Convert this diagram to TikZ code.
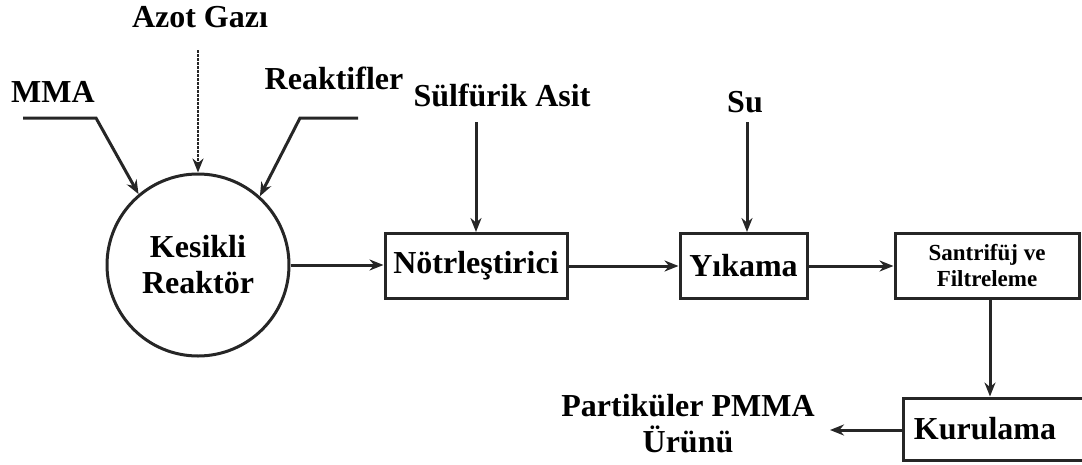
\documentclass[tikz,border=0pt]{standalone}
\usepackage{fontspec}
\setmainfont{Liberation Serif}
\usetikzlibrary{arrows.meta}
\begin{document}
\begin{tikzpicture}[x=1pt,y=-1pt,
  every node/.style={font=\bfseries\fontsize{32}{36}\selectfont, inner sep=0pt, align=center},
  unit/.style={draw=black!85, line width=3pt, rectangle, minimum height=65pt},
  flow/.style={draw=black!85, line width=3pt, -{Stealth[length=14pt,width=11pt]}},
  gas/.style={flow, line width=2.4pt, dash pattern=on 3pt off 1pt},
  small/.style={font=\bfseries\fontsize{23}{26}\selectfont}]
\useasboundingbox (0,0) rectangle (1082,464);

% process units
\node[draw=black!85, line width=3pt, circle, minimum size=182pt] (reactor) at (198,265) {Kesikli\\Reaktör};
\node[unit, minimum width=182pt] (notr) at (476,266) {Nötrleştirici};
\node[unit, minimum width=127pt] (yik) at (743.5,266) {Yıkama};
\node[unit, minimum width=184pt, small] (sant) at (987,266) {Santrifüj ve\\Filtreleme};
\node[unit, minimum width=190pt, minimum height=62pt] (kur) at (998,429) {};
\node at (985,429) {Kurulama};

% stream labels
\node (azot) at (200,17) {Azot Gazı};
\node (mma) at (53,92) {MMA};
\node (reak) at (334,78) {Reaktifler};
\node (sulf) at (502,95) {Sülfürik Asit};
\node (su) at (745,102) {Su};
\node (urun) at (688,424) {Partiküler PMMA\\Ürünü};

% stream end points
\coordinate (a0) at (198,50);
\coordinate (m0) at (23,118);
\coordinate (m1) at (96,118);
\coordinate (r0) at (358,118);
\coordinate (r1) at (300,118);
\coordinate (s0) at (476,122);
\coordinate (w0) at (747,122);
\coordinate (k0) at (990,300);
\coordinate (p0) at (830,430);

% feeds to the reactor
\draw[gas] (a0) -- (reactor.north);
\draw[flow] (m0) -- (m1) -- (reactor.130);
\draw[flow] (r0) -- (r1) -- (reactor.48);

% main line
\draw[flow] (reactor.east) -- (reactor.east -| notr.west);
\draw[flow] (s0) -- (s0 |- notr.north);
\draw[flow] (notr.east) -- (yik.west);
\draw[flow] (w0) -- (w0 |- yik.north);
\draw[flow] (yik.east) -- (sant.west);
\draw[flow] (k0) -- (k0 |- kur.north);
\draw[flow] (kur.west |- p0) -- (p0);
\end{tikzpicture}
\end{document}
